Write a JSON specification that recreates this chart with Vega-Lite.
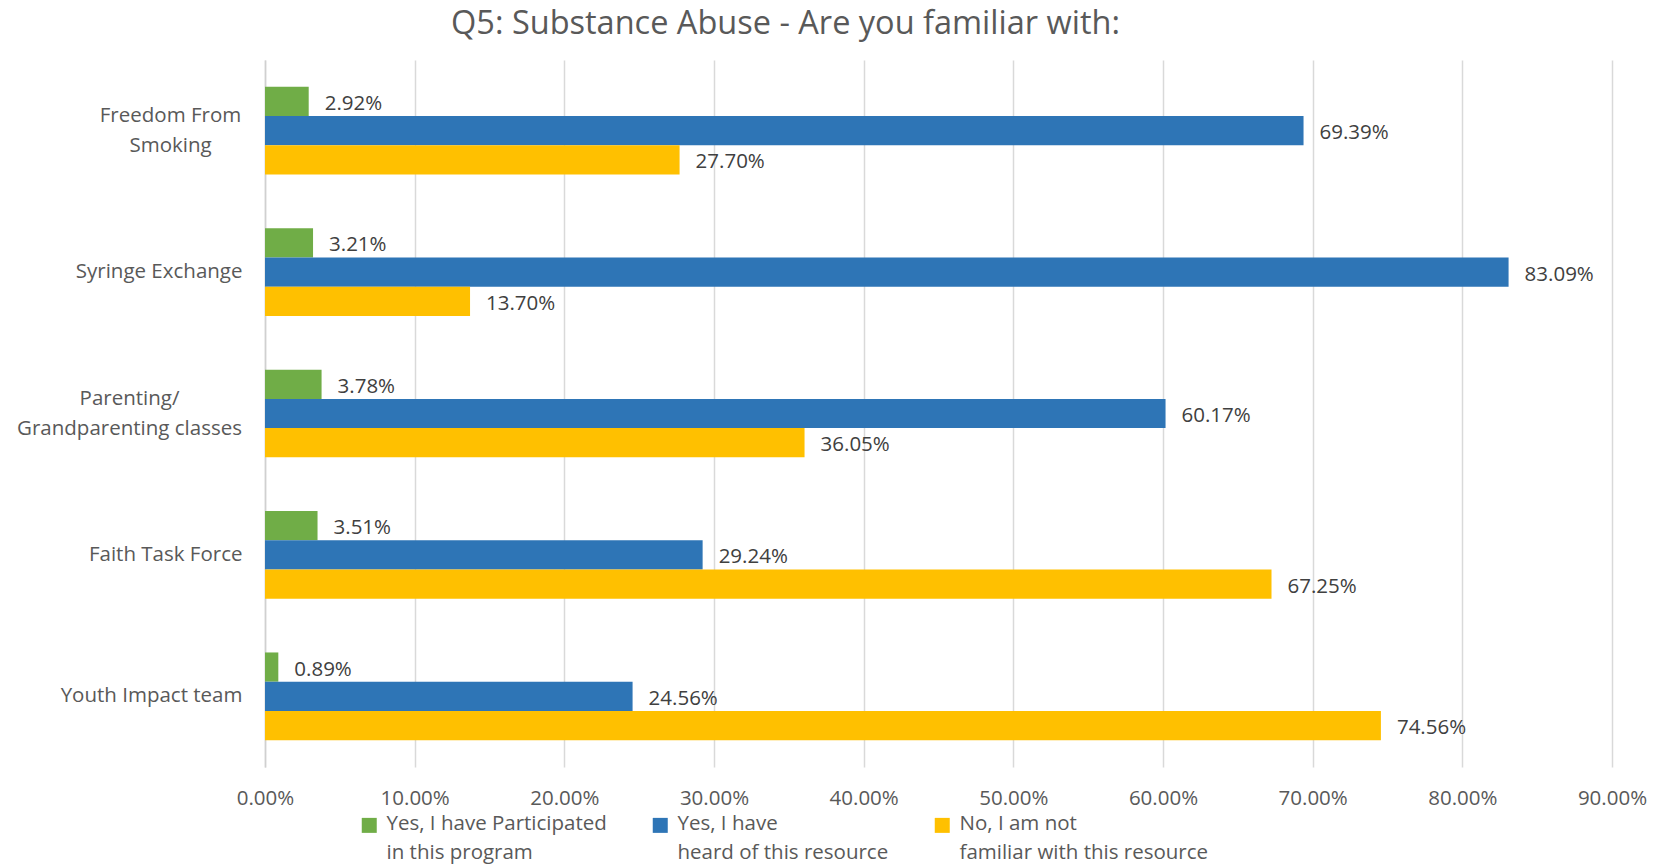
{
  "$schema": "https://vega.github.io/schema/vega-lite/v6.json",
  "autosize": {"type": "none"},
  "width": 1347,
  "height": 707,
  "padding": {"left": 265, "top": 60, "right": 45, "bottom": 99},
  "background": "white",
  "config": {"view": {"stroke": null}},
  "title": {
    "text": "Q5: Substance Abuse - Are you familiar with:",
    "font": "Open Sans",
    "fontSize": 32.5,
    "fontWeight": "normal",
    "color": "#595959",
    "anchor": "middle",
    "frame": "group",
    "dx": -153,
    "dy": 24,
    "baseline": "alphabetic",
    "offset": 18
  },
  "data": {
    "values": [
      {"program": "Freedom From Smoking", "response": "Yes, I have Participated in this program", "pct": 0.0292},
      {"program": "Freedom From Smoking", "response": "Yes, I have heard of this resource", "pct": 0.6939},
      {"program": "Freedom From Smoking", "response": "No, I am not familiar with this resource", "pct": 0.2770},
      {"program": "Syringe Exchange", "response": "Yes, I have Participated in this program", "pct": 0.0321},
      {"program": "Syringe Exchange", "response": "Yes, I have heard of this resource", "pct": 0.8309},
      {"program": "Syringe Exchange", "response": "No, I am not familiar with this resource", "pct": 0.1370},
      {"program": "Parenting/ Grandparenting classes", "response": "Yes, I have Participated in this program", "pct": 0.0378},
      {"program": "Parenting/ Grandparenting classes", "response": "Yes, I have heard of this resource", "pct": 0.6017},
      {"program": "Parenting/ Grandparenting classes", "response": "No, I am not familiar with this resource", "pct": 0.3605},
      {"program": "Faith Task Force", "response": "Yes, I have Participated in this program", "pct": 0.0351},
      {"program": "Faith Task Force", "response": "Yes, I have heard of this resource", "pct": 0.2924},
      {"program": "Faith Task Force", "response": "No, I am not familiar with this resource", "pct": 0.6725},
      {"program": "Youth Impact team", "response": "Yes, I have Participated in this program", "pct": 0.0089},
      {"program": "Youth Impact team", "response": "Yes, I have heard of this resource", "pct": 0.2456},
      {"program": "Youth Impact team", "response": "No, I am not familiar with this resource", "pct": 0.7456}
    ]
  },
  "encoding": {
    "y": {
      "field": "program",
      "type": "nominal",
      "sort": ["Freedom From Smoking", "Syringe Exchange", "Parenting/ Grandparenting classes", "Faith Task Force", "Youth Impact team"],
      "scale": {"paddingInner": 0.38, "paddingOuter": 0.19},
      "axis": {
        "title": null,
        "ticks": false,
        "domain": true,
        "domainColor": "#d0d0d0",
        "domainWidth": 1.5,
        "labelFont": "Open Sans",
        "labelFontSize": 20.5,
        "labelColor": "#595959",
        "labelLimit": 400,
        "labelLineHeight": 30,
        "labelExpr": "datum.label == 'Freedom From Smoking' ? ['Freedom From', 'Smoking'] : datum.label == 'Parenting/ Grandparenting classes' ? ['Parenting/', 'Grandparenting classes'] : datum.label",
        "labelAlign": {
          "condition": {"test": "datum.value == 'Freedom From Smoking' || datum.value == 'Parenting/ Grandparenting classes'", "value": "center"},
          "value": "right"
        },
        "labelPadding": {
          "condition": [
            {"test": "datum.value == 'Freedom From Smoking'", "value": 95},
            {"test": "datum.value == 'Parenting/ Grandparenting classes'", "value": 136}
          ],
          "value": 23
        },
        "labelOffset": {
          "condition": {"test": "datum.value == 'Freedom From Smoking' || datum.value == 'Parenting/ Grandparenting classes'", "value": -15},
          "value": 0
        }
      }
    },
    "yOffset": {
      "field": "response",
      "type": "nominal",
      "sort": ["Yes, I have Participated in this program", "Yes, I have heard of this resource", "No, I am not familiar with this resource"]
    },
    "x": {
      "field": "pct",
      "type": "quantitative",
      "scale": {"domain": [0, 0.9], "nice": false},
      "axis": {
        "title": null,
        "format": ".2%",
        "values": [0, 0.1, 0.2, 0.3, 0.4, 0.5, 0.6, 0.7, 0.8, 0.9],
        "ticks": false,
        "domain": false,
        "grid": true,
        "gridColor": "#d9d9d9",
        "gridWidth": 1.5,
        "labelFont": "Open Sans",
        "labelFontSize": 20.5,
        "labelColor": "#595959",
        "labelPadding": 21,
        "labelBaseline": "top",
        "labelFlush": false
      }
    }
  },
  "layer": [
    {
      "mark": {"type": "bar"},
      "encoding": {
        "color": {
          "field": "response",
          "type": "nominal",
          "sort": ["Yes, I have Participated in this program", "Yes, I have heard of this resource", "No, I am not familiar with this resource"],
          "scale": {
            "domain": ["Yes, I have Participated in this program", "Yes, I have heard of this resource", "No, I am not familiar with this resource"],
            "range": ["#70AD47", "#2E75B6", "#FFC000"]
          },
          "legend": {
            "title": null,
            "orient": "none",
            "direction": "horizontal",
            "legendX": 94,
            "legendY": 755,
            "symbolType": "square",
            "symbolSize": 225,
            "symbolStrokeWidth": 0,
            "labelFont": "Open Sans",
            "labelFontSize": 20.5,
            "labelColor": "#595959",
            "labelLimit": 400,
            "labelOffset": 7,
            "columnPadding": 43,
            "labelBaseline": "alphabetic",
            "labelExpr": "datum.label == 'Yes, I have Participated in this program' ? ['Yes, I have Participated', 'in this program'] : datum.label == 'Yes, I have heard of this resource' ? ['Yes, I have', 'heard of this resource'] : ['No, I am not', 'familiar with this resource']",
            "encode": {
              "labels": {"update": {"lineHeight": {"value": 29}, "dy": {"value": 5}}}
            }
          }
        }
      }
    },
    {
      "mark": {"type": "text", "align": "left", "baseline": "middle", "dx": 16, "dy": 2.5, "font": "Open Sans", "fontSize": 20.5, "color": "#404040"},
      "encoding": {
        "text": {"field": "pct", "type": "quantitative", "format": ".2%"}
      }
    }
  ]
}
